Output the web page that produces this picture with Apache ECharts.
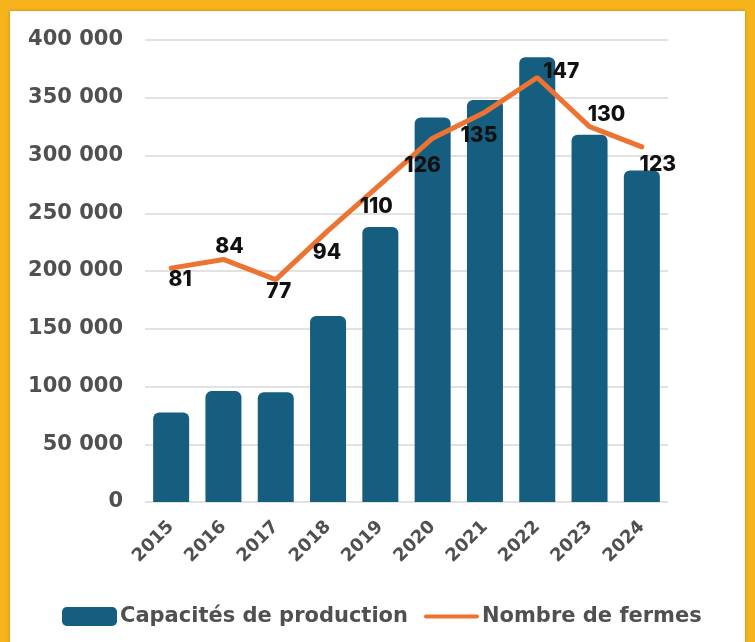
<!DOCTYPE html>
<html>
<head>
<meta charset="utf-8">
<style>
  html, body { margin: 0; padding: 0; background: #F7B31C; }
  #chart { width: 755px; height: 642px; }
</style>
<script src="https://cdn.jsdelivr.net/npm/echarts@6/dist/echarts.min.js"></script>
</head>
<body>
<div id="chart"></div>
<script>
  // data
  var years = ["2015", "2016", "2017", "2018", "2019", "2020", "2021", "2022", "2023", "2024"];
  var capacites = [77500, 96000, 95000, 161000, 238000, 333000, 348000, 385000, 318000, 287000];
  var fermes = [81, 84, 77, 94, 110, 126, 135, 147, 130, 123];

  // where each line label sits relative to its point
  var labelOffsets = [[9, 12], [6, -13], [3, 12], [-1, 22], [-4, 22], [-10, 28], [-6, 23], [24, -6], [17, -12], [16, 18]];

  var axisFont = "DejaVu Sans";
  var grey = "#505050";

  function spaced(v) {
    return String(v).replace(/\B(?=(\d{3})+(?!\d))/g, " ");
  }

  var lineData = fermes.map(function (v, i) {
    return {
      value: v,
      label: { offset: labelOffsets[i] }
    };
  });

  var chart = echarts.init(document.getElementById("chart"));
  chart.setOption({
    backgroundColor: "#F7B31C",
    animation: false,
    graphic: [{
      type: "rect",
      z: -10,
      shape: { x: 10, y: 11, width: 735, height: 640 },
      style: { fill: "#ffffff", shadowBlur: 3, shadowColor: "rgba(0,0,0,0.25)" }
    }],
    grid: {
      left: 145,
      right: 87,
      top: 40,
      bottom: 140
    },
    legend: {
      top: 606,
      left: 62,
      padding: 0,
      itemGap: 16,
      itemWidth: 55,
      itemHeight: 19,
      symbolKeepAspect: true,
      textStyle: {
        fontFamily: axisFont,
        fontSize: 21,
        fontWeight: "bold",
        color: grey,
        padding: [0, 0, 0, -2]
      },
      data: [
        { name: "Capacités de production", icon: "roundRect" },
        { name: "Nombre de fermes", icon: "path://M2,0L53,0A2,2,0,0,1,53,4L2,4A2,2,0,0,1,2,0Z" }
      ]
    },
    xAxis: {
      type: "category",
      data: years,
      axisLine: { show: false },
      axisTick: { show: false },
      axisLabel: {
        rotate: 45,
        margin: 22,
        fontFamily: axisFont,
        fontSize: 18,
        fontWeight: "bold",
        color: grey
      }
    },
    yAxis: [
      {
        type: "value",
        min: 0,
        max: 400000,
        interval: 50000,
        axisLine: { show: false },
        axisTick: { show: false },
        splitLine: {
          lineStyle: { color: "#d9d9d9", width: 1.5 }
        },
        axisLabel: {
          margin: 22,
          fontFamily: axisFont,
          fontSize: 21,
          fontWeight: "bold",
          color: grey,
          formatter: spaced
        }
      },
      {
        type: "value",
        min: 0,
        max: 160,
        show: false,
        splitLine: { show: false }
      }
    ],
    series: [
      {
        name: "Capacités de production",
        type: "bar",
        barWidth: 36,
        itemStyle: {
          color: "#155E7F",
          borderRadius: [6, 6, 0, 0]
        },
        data: capacites
      },
      {
        name: "Nombre de fermes",
        type: "line",
        yAxisIndex: 1,
        symbol: "circle",
        symbolSize: 2,
        itemStyle: { color: "#EC7331" },
        lineStyle: { color: "#EC7331", width: 5, cap: "round" },
        label: {
          show: true,
          position: "inside",
          fontFamily: "Inter",
          fontSize: 21,
          fontWeight: 800,
          color: "#111111"
        },
        data: lineData
      }
    ]
  });
</script>
</body>
</html>
